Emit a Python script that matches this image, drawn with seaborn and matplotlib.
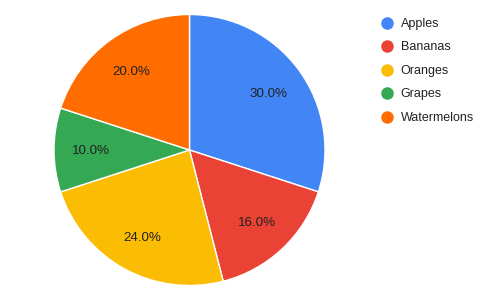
import matplotlib
matplotlib.use("Agg")
import matplotlib.pyplot as plt
from matplotlib.lines import Line2D
import seaborn as sns

categories = ["Apples", "Bananas", "Oranges", "Grapes", "Watermelons"]
values = [30, 16, 24, 10, 20]
colors = ["#4285F4", "#EA4335", "#FBBC04", "#34A853", "#FF6D01"]

sns.set_theme(style="white")
plt.rcParams["font.family"] = ["Liberation Sans", "DejaVu Sans"]

W, H = 491, 301
fig = plt.figure(figsize=(W / 100, H / 100), dpi=100)
cx, cy, r = 189.5, 150, 135.5
ax = fig.add_axes([(cx - r) / W, (H - cy - r) / H, 2 * r / W, 2 * r / H])
palette = sns.color_palette(colors)
wedges, texts, autotexts = ax.pie(
    values, colors=palette, startangle=90, counterclock=False,
    autopct="%.1f%%", pctdistance=0.725, radius=1,
    wedgeprops=dict(edgecolor="white", linewidth=1),
    textprops=dict(fontsize=9.6, color="#222222"))
for t in autotexts:
    t.set_va("center_baseline")
ax.set_xlim(-1, 1)
ax.set_ylim(-1, 1)
ax.set_axis_off()

handles = [Line2D([], [], marker="o", linestyle="none", markersize=8,
                  markerfacecolor=c, markeredgecolor=c) for c in palette]
fig.legend(handles, categories, loc="upper left",
           bbox_to_anchor=(379.5 / W, 1 - 18 / H), frameon=False,
           fontsize=9.0, labelspacing=0.92, handletextpad=0.5,
           handlelength=1.2, borderaxespad=0, borderpad=0,
           labelcolor="#222222")

fig.savefig("out.png", dpi=100)
